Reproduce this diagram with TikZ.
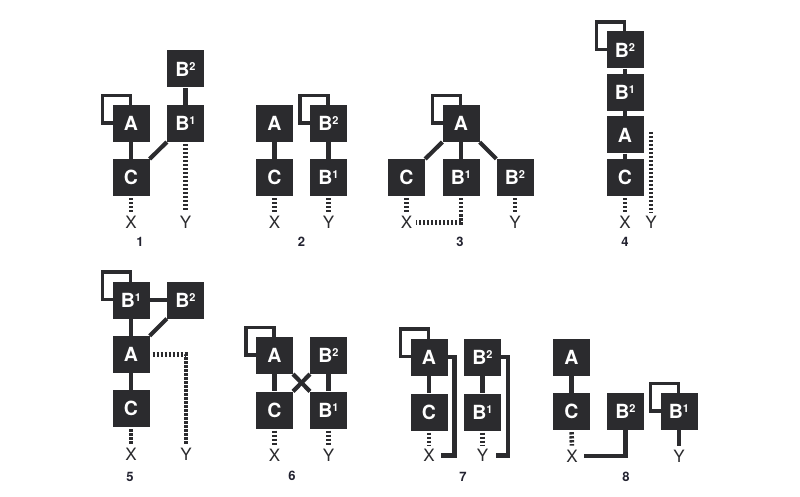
\documentclass[tikz,border=0pt]{standalone}
\usepackage{fontspec}
\setmainfont{TeX Gyre Heros}
\usetikzlibrary{calc}
\definecolor{ink}{HTML}{2B2B2E}
\definecolor{numc}{HTML}{222230}
\pgfdeclarelayer{paper}
\pgfdeclarelayer{bg}
\pgfsetlayers{paper,bg,main}
\newcommand{\supb}[1]{B\raisebox{6pt}{\fontsize{11}{11}\selectfont #1}}
\tikzset{
 box/.style={rectangle, fill=ink, minimum size=37pt, inner sep=0pt, text=white, font=\fontsize{19.5}{19.5}\selectfont\bfseries},
 lab/.style={inner sep=0pt, text=ink, font=\fontsize{17}{17}\selectfont},
 num/.style={inner sep=0pt, text=numc, font=\fontsize{13}{13}\selectfont\bfseries},
 conn/.style={draw=ink, line width=4.2pt},
 dotline/.style={draw=ink, line width=4.6pt, dash pattern=on 2.3pt off 1.7pt, shorten <=2pt, shorten >=4pt},
 selfloop/.style={draw=ink, line width=3.4pt},
}
\begin{document}
\begin{tikzpicture}[x=1pt,y=-1pt]
\begin{pgfonlayer}{paper}
\fill[white] (0,0) rectangle (800,497);
\end{pgfonlayer}
\useasboundingbox (0,0) rectangle (800,497);
% ---------- diagram 1
\node[box] (A1) at (131,123.5) {A};
\node[box] (C1) at (131,177.5) {C};
\node[box] (Ba1) at (185.5,123.5) {\supb{1}};
\node[box] (Bb1) at (185.5,69) {\supb{2}};
\node[lab] (X1) at (131,222.5) {X};
\node[lab] (Y1) at (185.5,222.5) {Y};
\node[num] (n1) at (140,242) {1};
% ---------- diagram 2
\node[box] (A2) at (274.5,123.5) {A};
\node[box] (C2) at (274.5,177.5) {C};
\node[box] (Bb2) at (328.5,123.5) {\supb{2}};
\node[box] (Ba2) at (328.5,177.5) {\supb{1}};
\node[lab] (X2) at (274.5,222.5) {X};
\node[lab] (Y2) at (328.5,222.5) {Y};
\node[num] (n2) at (301.5,242) {2};
% ---------- diagram 3
\node[box] (A3) at (461,123.5) {A};
\node[box] (C3) at (406.5,177.5) {C};
\node[box] (Ba3) at (461,177.5) {\supb{1}};
\node[box] (Bb3) at (515,177.5) {\supb{2}};
\node[lab] (X3) at (406.5,222.5) {X};
\node[lab] (Y3) at (515,222.5) {Y};
\node[num] (n3) at (460,242) {3};
% ---------- diagram 4
\node[box] (Bb4) at (625,50) {\supb{2}};
\node[box] (Ba4) at (625,92.5) {\supb{1}};
\node[box] (A4) at (625,135) {A};
\node[box] (C4) at (625,177.5) {C};
\node[lab] (X4) at (625,222.5) {X};
\node[lab] (Y4) at (651,222.5) {Y};
\node[num] (n4) at (625,242) {4};
% ---------- diagram 5
\node[box] (Ba5) at (131,300) {\supb{1}};
\node[box] (Bb5) at (185.5,300) {\supb{2}};
\node[box] (A5) at (131,354.5) {A};
\node[box] (C5) at (131,408.5) {C};
\node[lab] (X5) at (131,454) {X};
\node[lab] (Y5) at (186,454) {Y};
\node[num] (n5) at (130,477) {5};
% ---------- diagram 6
\node[box] (A6) at (274.5,355.5) {A};
\node[box] (Bb6) at (328.5,355.5) {\supb{2}};
\node[box] (C6) at (274.5,410) {C};
\node[box] (Ba6) at (328.5,410) {\supb{1}};
\node[lab] (X6) at (274.5,455) {X};
\node[lab] (Y6) at (328.5,455) {Y};
\node[num] (n6) at (292,476) {6};
% ---------- diagram 7
\node[box] (A7) at (429,357) {A};
\node[box] (C7) at (429,412) {C};
\node[box] (Bb7) at (482.5,357) {\supb{2}};
\node[box] (Ba7) at (482.5,412) {\supb{1}};
\node[lab] (X7) at (429,455.5) {X};
\node[lab] (Y7) at (482.5,455.5) {Y};
\node[num] (n7) at (463,477) {7};
\coordinate (r7a) at (454.5,0);
\coordinate (r7b) at (508,0);
% ---------- diagram 8
\node[box] (A8) at (571.5,357.5) {A};
\node[box] (C8) at (571.5,411.5) {C};
\node[box] (Bb8) at (625.5,411.5) {\supb{2}};
\node[box] (Ba8) at (679,411.5) {\supb{1}};
\node[lab] (X8) at (572,456) {X};
\node[lab] (Y8) at (679,456) {Y};
\node[num] (n8) at (626,477) {8};

\begin{pgfonlayer}{bg}
% loops
\foreach \n in {A1,Bb2,A3,Bb4,Ba5,A6,A7,Ba8}{
  \draw[selfloop] ($(\n.center)+(-28.5,-28)$) rectangle ($(\n.center)+(-0.5,-0.5)$);
}
% diagram 1
\draw[conn] (A1) -- (C1);
\draw[conn] (Ba1) -- (Bb1);
\draw[conn] (C1) -- (Ba1);
\draw[dotline] (C1.south) -- (X1.north);
\draw[dotline] (Ba1.south) -- (Y1.north);
% diagram 2
\draw[conn] (A2) -- (C2);
\draw[conn] (Bb2) -- (Ba2);
\draw[dotline] (C2.south) -- (X2.north);
\draw[dotline] (Ba2.south) -- (Y2.north);
% diagram 3
\draw[conn] (A3) -- (C3);
\draw[conn] (A3) -- (Ba3);
\draw[conn] (A3) -- (Bb3);
\draw[dotline] (C3.south) -- (X3.north);
\draw[dotline] (Ba3.south) |- (X3.east);
\draw[dotline] (Bb3.south) -- (Y3.north);
% diagram 4
\draw[conn] (Bb4) -- (Ba4);
\draw[conn] (Ba4) -- (A4);
\draw[conn] (A4) -- (C4);
\draw[dotline] (C4.south) -- (X4.north);
\draw[dotline, shorten <=0pt] ($(Y4.north |- A4.center)+(0,-3)$) -- (Y4.north);
% diagram 5
\draw[conn] (Ba5) -- (Bb5);
\draw[conn] (Ba5) -- (A5);
\draw[conn] (A5) -- (Bb5);
\draw[conn] (A5) -- (C5);
\draw[dotline] (C5.south) -- (X5.north);
\draw[dotline, shorten <=3pt] (A5.east) -| (Y5.north);
% diagram 6
\draw[conn] (A6) -- (C6);
\draw[conn] (Bb6) -- (Ba6);
\draw[conn] (A6) -- (Ba6);
\draw[conn] (Bb6) -- (C6);
\draw[dotline] (C6.south) -- (X6.north);
\draw[dotline] (Ba6.south) -- (Y6.north);
% diagram 7
\draw[conn] (A7) -- (C7);
\draw[conn] (Bb7) -- (Ba7);
\draw[dotline] (C7.south) -- (X7.north);
\draw[dotline] (Ba7.south) -- (Y7.north);
\draw[conn, shorten >=6pt] (A7.east) -- (A7.east -| r7a) -- (X7.east -| r7a) -- (X7.east);
\draw[conn, shorten >=8pt] (Bb7.east) -- (Bb7.east -| r7b) -- (Y7.east -| r7b) -- (Y7.east);
% diagram 8
\draw[conn] (A8) -- (C8);
\draw[dotline] (C8.south) -- (X8.north);
\draw[conn, shorten >=6pt] (Bb8.south) |- (X8.east);
\draw[conn, shorten >=4pt] (Ba8.south) -- (Y8.north);
\end{pgfonlayer}
\end{tikzpicture}
\end{document}
